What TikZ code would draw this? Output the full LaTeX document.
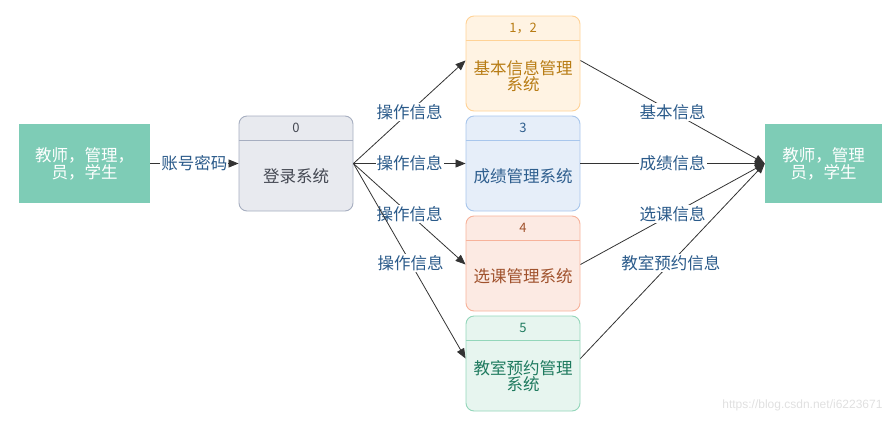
\documentclass[tikz,border=0pt]{standalone}
\usepackage{fontspec}
\setmainfont{Noto Sans CJK SC}
\newfontfamily\wmfont{Liberation Sans}
\usetikzlibrary{arrows.meta}
\definecolor{ActGreen}{RGB}{126,204,182}
\definecolor{LogFill}{RGB}{232,234,239}
\definecolor{LogLine}{RGB}{166,174,192}
\definecolor{LogText}{RGB}{68,72,82}
\definecolor{BasFill}{RGB}{255,243,227}
\definecolor{BasLine}{RGB}{255,210,150}
\definecolor{BasText}{RGB}{184,124,20}
\definecolor{ScoFill}{RGB}{230,238,249}
\definecolor{ScoLine}{RGB}{168,198,236}
\definecolor{ScoText}{RGB}{46,94,142}
\definecolor{SelFill}{RGB}{252,234,227}
\definecolor{SelLine}{RGB}{247,178,154}
\definecolor{SelText}{RGB}{160,82,45}
\definecolor{RooFill}{RGB}{231,245,239}
\definecolor{RooLine}{RGB}{147,214,186}
\definecolor{RooText}{RGB}{30,122,94}
\definecolor{LblText}{RGB}{42,90,138}

\begin{document}
\begin{tikzpicture}[x=1pt, y=-1pt, >={Triangle[length=10pt,width=8pt]}]
    \tikzstyle{actor} = [fill=ActGreen, text=white, minimum width=131pt, minimum height=79pt, align=center, font=\fontsize{16.5}{17}\selectfont]
    \tikzstyle{sysbox} = [draw, line width=0.9pt, rounded corners=8pt, minimum width=114pt, minimum height=95pt]
    \tikzstyle{num} = [font=\fontsize{13}{15}\selectfont]
    \tikzstyle{title} = [align=center, font=\fontsize{16.5}{16.5}\selectfont]
    \tikzstyle{lbl} = [fill=white, text=LblText, inner sep=1pt, font=\fontsize{16.5}{17}\selectfont]
    \tikzstyle{flow} = [draw=black!80, line width=0.8pt, ->]
    \useasboundingbox (0,0) rectangle (895,424);

    % actors
    \node[actor] (user) at (84.5,163.5) {教师，管理，\\员，学生};
    \node[actor, minimum width=117pt] (userr) at (823.5,163.5) {教师，管理\\员，学生};

    % subsystems
    \node[sysbox, draw=LogLine, fill=LogFill] (login) at (296,163.5) {};
    \node[sysbox, draw=BasLine, fill=BasFill] (basic) at (523,63.5) {};
    \node[sysbox, draw=ScoLine, fill=ScoFill] (score) at (523,163.5) {};
    \node[sysbox, draw=SelLine, fill=SelFill] (select) at (523,263.5) {};
    \node[sysbox, draw=RooLine, fill=RooFill] (room) at (523,363.5) {};

    \draw[LogLine, line width=0.9pt] ([yshift=-25pt]login.north west) -- ([yshift=-25pt]login.north east);
    \draw[BasLine, line width=0.9pt] ([yshift=-25pt]basic.north west) -- ([yshift=-25pt]basic.north east);
    \draw[ScoLine, line width=0.9pt] ([yshift=-25pt]score.north west) -- ([yshift=-25pt]score.north east);
    \draw[SelLine, line width=0.9pt] ([yshift=-25pt]select.north west) -- ([yshift=-25pt]select.north east);
    \draw[RooLine, line width=0.9pt] ([yshift=-25pt]room.north west) -- ([yshift=-25pt]room.north east);

    \node[num, text=LogText] (loginno) at ([yshift=-12.5pt]login.north) {0};
    \node[num, text=BasText] (basicno) at ([yshift=-12.5pt]basic.north) {1，2};
    \node[num, text=ScoText] (scoreno) at ([yshift=-12.5pt]score.north) {3};
    \node[num, text=SelText] (selectno) at ([yshift=-12.5pt]select.north) {4};
    \node[num, text=RooText] (roomno) at ([yshift=-12.5pt]room.north) {5};

    \node[title, text=LogText] (logintxt) at ([yshift=-12.5pt]login.center) {登录系统};
    \node[title, text=BasText] (basictxt) at ([yshift=-12.5pt]basic.center) {基本信息管理\\系统};
    \node[title, text=ScoText] (scoretxt) at ([yshift=-12.5pt]score.center) {成绩管理系统};
    \node[title, text=SelText] (selecttxt) at ([yshift=-12.5pt]select.center) {选课管理系统};
    \node[title, text=RooText] (roomtxt) at ([yshift=-12.5pt]room.center) {教室预约管理\\系统};

    % flows
    \draw[flow] (user.east) -- node[lbl] {账号密码} (login.west);
    \draw[flow] (login.east) -- node[lbl] {操作信息} ([yshift=3pt]basic.west);
    \draw[flow] (login.east) -- node[lbl] {操作信息} (score.west);
    \draw[flow] (login.east) -- node[lbl] {操作信息} ([yshift=-1pt]select.west);
    \draw[flow] (login.east) -- node[lbl, pos=0.51] {操作信息} ([yshift=5pt]room.west);

    \draw[flow] ([yshift=3pt]basic.east) -- node[lbl] {基本信息} (userr.west);
    \draw[flow] (score.east) -- node[lbl] {成绩信息} (userr.west);
    \draw[flow] ([yshift=-1pt]select.east) -- node[lbl] {选课信息} (userr.west);
    \draw[flow] ([yshift=5pt]room.east) -- node[lbl, pos=0.49] {教室预约信息} (userr.west);

    \node[text=black!12, font=\wmfont\fontsize{12}{14}\selectfont, anchor=east] (mark) at (886,405) {https://blog.csdn.net/i6223671};
\end{tikzpicture}
\end{document}
